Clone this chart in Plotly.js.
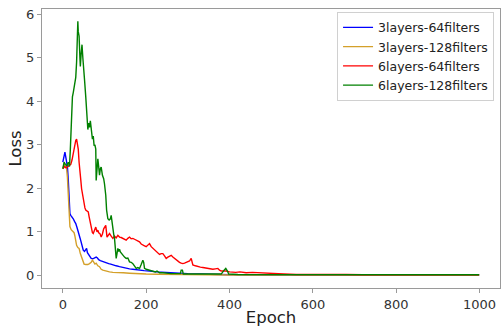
<!DOCTYPE html>
<html>
<head>
<meta charset="utf-8">
<script src="https://cdn.plot.ly/plotly-3.0.1.min.js"></script>
<style>html,body{margin:0;padding:0;background:#fff;}#chart{width:502px;height:327px;}</style>
</head>
<body>
<div id="chart"></div>
<script>
const seriesNames = ["3layers-64filters", "3layers-128filters", "6layers-64filters", "6layers-128filters"];
const seriesColors = ["#0000ff", "#d4a02a", "#ff0000", "#008000"];

const blueEpoch = [0,2,4,5,7,9,11,13,15,17,19,22,25,28,31,34,37,40,43,46,49,52,55,57,59,62,65,68,72,76,80,83,86,90,95,100,105,110,115,120,128,136,144,152,160,168,180,195,208,225,248,270,300,330,360,400,500,700,999];
const blueLoss = [2.6,2.72,2.82,2.83,2.72,2.6,2.5,2.2,1.75,1.42,1.38,1.35,1.3,1.24,1.19,1.1,1.02,0.9,0.8,0.7,0.58,0.55,0.6,0.62,0.52,0.48,0.42,0.39,0.38,0.4,0.42,0.4,0.36,0.34,0.32,0.3,0.28,0.27,0.26,0.24,0.22,0.2,0.18,0.16,0.15,0.14,0.12,0.11,0.1,0.08,0.07,0.05,0.04,0.03,0.02,0.015,0.01,0.01,0.01];

const orangeEpoch = [0,3,6,9,11,13,15,17,20,24,27,29,31,33,36,39,42,45,48,51,55,60,64,68,71,74,77,80,84,88,92,96,100,105,112,120,130,145,160,175,200,230,260,300,400,600,999];
const orangeLoss = [2.45,2.55,2.5,2.45,2.25,1.8,1.4,1.12,1.05,1.02,0.98,0.9,0.78,0.69,0.64,0.62,0.5,0.4,0.3,0.26,0.25,0.25,0.27,0.3,0.35,0.3,0.26,0.28,0.22,0.2,0.14,0.12,0.11,0.09,0.08,0.07,0.07,0.06,0.05,0.04,0.03,0.025,0.02,0.015,0.01,0.01,0.01];

const redEpoch = [0,4,8,12,16,19,22,25,28,31,33,35,37,39,41,43,45,48,50,53,55,58,61,63,65,67,69,71,73,76,79,82,84,86,89,92,95,98,101,103,106,109,112,116,120,124,128,132,136,140,144,148,152,156,160,164,168,172,176,180,184,188,192,196,200,204,208,212,216,220,224,228,232,236,240,244,248,252,256,260,264,268,272,276,280,284,288,292,296,300,304,308,312,318,324,330,336,342,348,354,360,366,372,376,380,386,392,400,407,415,425,431,440,455,470,487,500,511,530,560,600,640,680,720,800,900,999];
const redLoss = [2.45,2.5,2.47,2.5,2.52,2.55,2.65,2.79,3.0,3.1,3.13,3.0,2.9,2.6,2.45,2.2,1.99,1.8,1.69,1.55,1.5,1.48,1.46,1.35,1.27,1.12,1.04,0.98,0.96,1.05,1.11,1.0,1.04,0.98,0.96,0.88,0.95,1.07,1.12,1.15,0.88,0.92,0.96,0.9,0.85,0.9,0.86,0.92,0.88,0.87,0.85,0.83,0.81,0.85,0.88,0.84,0.85,0.83,0.81,0.78,0.77,0.72,0.69,0.68,0.66,0.7,0.73,0.66,0.62,0.6,0.54,0.52,0.48,0.5,0.5,0.45,0.39,0.42,0.44,0.46,0.42,0.39,0.35,0.31,0.3,0.28,0.27,0.28,0.3,0.31,0.33,0.39,0.24,0.22,0.2,0.19,0.18,0.17,0.16,0.15,0.14,0.15,0.16,0.12,0.1,0.1,0.1,0.08,0.07,0.07,0.08,0.07,0.06,0.07,0.06,0.05,0.04,0.03,0.03,0.02,0.025,0.02,0.02,0.015,0.015,0.015,0.015];

const greenEpoch = [0,3,6,9,13,16,18,20,23,25,28,31,33,34,36,37,39,41,42,44,46,48,50,52,55,58,60,62,64,66,68,71,73,75,77,79,80,82,84,86,88,90,92,95,98,100,103,105,106,108,111,114,116,118,120,122,124,126,128,130,132,134,136,138,141,144,148,152,156,160,164,168,172,176,180,184,188,192,194,196,200,208,215,222,226,232,240,248,260,275,282,284,287,289,300,320,340,360,380,387,391,395,398,420,450,500,550,600,650,700,800,900,999];
const greenLoss = [2.45,2.6,2.55,2.52,2.6,2.5,2.9,3.4,4.1,4.2,4.4,4.55,4.9,5.2,5.84,5.6,5.5,5.0,4.8,5.1,5.3,5.0,4.8,4.5,4.1,3.67,3.35,3.5,3.4,3.55,3.3,3.13,3.2,2.98,3.0,2.9,2.18,2.5,2.68,2.5,2.3,2.45,2.49,2.3,2.22,2.1,1.84,1.5,1.38,1.3,1.27,1.3,1.38,1.2,1.04,0.95,0.85,0.6,0.39,0.5,0.62,0.55,0.6,0.54,0.5,0.46,0.42,0.39,0.4,0.31,0.3,0.27,0.2,0.16,0.18,0.16,0.25,0.35,0.3,0.16,0.14,0.12,0.1,0.08,0.1,0.06,0.06,0.05,0.04,0.04,0.04,0.12,0.12,0.03,0.03,0.03,0.02,0.03,0.03,0.12,0.16,0.1,0.03,0.02,0.02,0.02,0.02,0.015,0.02,0.015,0.015,0.015,0.015];

const xTicks = [0, 200, 400, 600, 800, 1000];
const yTicks = [0, 1, 2, 3, 4, 5, 6];

const xs = [blueEpoch, orangeEpoch, redEpoch, greenEpoch];
const ys = [blueLoss, orangeLoss, redLoss, greenLoss];

const traces = seriesNames.map((n, i) => ({
  type: 'scatter', mode: 'lines', name: n,
  x: xs[i], y: ys[i],
  line: {color: seriesColors[i], width: 1.4}
}));

const axisCommon = {
  showgrid: false, zeroline: false, showline: true, mirror: true,
  linecolor: '#9a9a9a', linewidth: 1.2,
  ticks: 'outside', ticklen: 4, tickcolor: '#9a9a9a', tickwidth: 1,
  tickfont: {family: 'DejaVu Sans', size: 13, color: '#333'}
};

const layout = {
  width: 502, height: 327,
  margin: {l: 42, r: 2, t: 9, b: 39},
  paper_bgcolor: '#fff', plot_bgcolor: '#fff',
  font: {family: 'DejaVu Sans', color: '#222'},
  showlegend: true,
  legend: {
    x: 0.987, xanchor: 'right', y: 0.99, yanchor: 'top',
    bgcolor: 'rgba(255,255,255,0.9)', bordercolor: '#d0d0d0', borderwidth: 1,
    font: {family: 'DejaVu Sans', size: 12.5, color: '#222'},
    itemwidth: 30, tracegroupgap: 0
  },
  xaxis: Object.assign({}, axisCommon, {
    range: [-50, 1049], tickvals: xTicks, ticktext: xTicks.map(String),
    title: {text: 'Epoch', font: {family: 'DejaVu Sans', size: 16.5, color: '#222'}, standoff: 0}
  }),
  yaxis: Object.assign({}, axisCommon, {
    range: [-0.29, 6.12], tickvals: yTicks, ticktext: yTicks.map(String),
    title: {text: 'Loss', font: {family: 'DejaVu Sans', size: 16.5, color: '#222'}, standoff: 0}
  })
};

Plotly.newPlot('chart', traces, layout, {displayModeBar: false, staticPlot: true});
</script>
</body>
</html>
